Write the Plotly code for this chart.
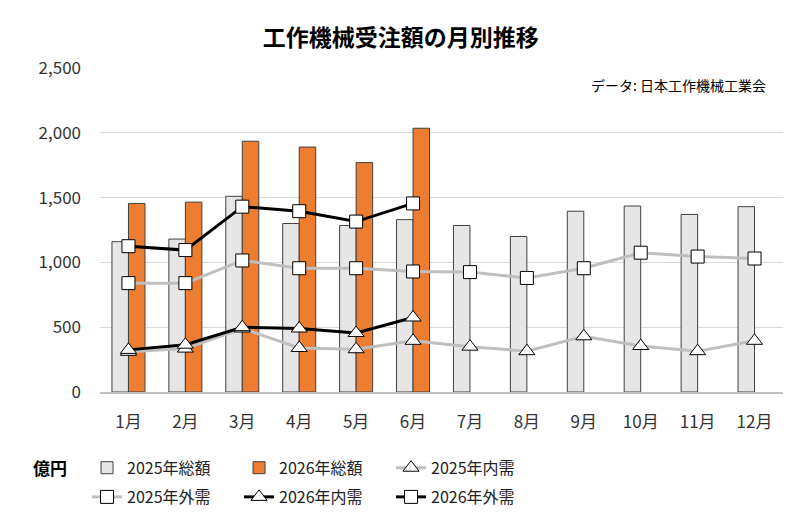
import plotly.graph_objects as go

months = ['1月', '2月', '3月', '4月', '5月', '6月', '7月', '8月', '9月', '10月', '11月', '12月']

total_2025 = [1160, 1180, 1510, 1300, 1285, 1330, 1285, 1200, 1395, 1435, 1370, 1430]
total_2026 = [1455, 1465, 1935, 1890, 1770, 2035, None, None, None, None, None, None]
domestic_2025 = [310, 335, 490, 340, 330, 395, 350, 315, 430, 355, 315, 395]
foreign_2025 = [840, 840, 1015, 955, 955, 930, 925, 880, 955, 1075, 1045, 1030]
domestic_2026 = [325, 365, 500, 490, 455, 575]
foreign_2026 = [1125, 1095, 1430, 1395, 1315, 1455]

FONT = 'Noto Sans CJK JP'

fig = go.Figure()

fig.add_trace(go.Bar(x=months, y=total_2025, name='2025年総額',
                     marker=dict(color='#e7e6e6', line=dict(color='#404040', width=1)),
                     legend='legend'))
fig.add_trace(go.Bar(x=months, y=total_2026, name='2026年総額',
                     marker=dict(color='#ed7d31', line=dict(color='#404040', width=1)),
                     legend='legend'))

marker_tri = dict(symbol='triangle-up', size=14, color='white', line=dict(color='black', width=1))
marker_sq = dict(symbol='square', size=13, color='white', line=dict(color='black', width=1))

fig.add_trace(go.Scatter(x=months, y=domestic_2025, name='2025年内需', mode='lines+markers',
                         line=dict(color='#bfbfbf', width=3), marker=marker_tri, legend='legend'))
fig.add_trace(go.Scatter(x=months, y=foreign_2025, name='2025年外需', mode='lines+markers',
                         line=dict(color='#bfbfbf', width=3), marker=marker_sq, legend='legend2'))
fig.add_trace(go.Scatter(x=months[:6], y=domestic_2026, name='2026年内需', mode='lines+markers',
                         line=dict(color='black', width=3), marker=marker_tri, legend='legend2'))
fig.add_trace(go.Scatter(x=months[:6], y=foreign_2026, name='2026年外需', mode='lines+markers',
                         line=dict(color='black', width=3), marker=marker_sq, legend='legend2'))

legend_common = dict(orientation='h', xanchor='left', yanchor='middle', entrywidth=107,
                     entrywidthmode='pixels', itemwidth=30, traceorder='normal',
                     font=dict(family=FONT, size=16, color='#222222'), bgcolor='rgba(0,0,0,0)')

# page body has an 8px margin, so the figure is drawn 8px smaller and offset
fig.update_layout(
    width=792, height=515,
    margin=dict(l=92, r=17, t=60, b=131, autoexpand=False),
    plot_bgcolor='white', paper_bgcolor='white',
    font=dict(family=FONT, size=17, color='#333333'),
    title=dict(text='<b>工作機械受注額の月別推移</b>', x=0.496, xanchor='center',
               y=1 - 30 / 515, yanchor='middle',
               font=dict(family=FONT, size=23, color='black')),
    barmode='group', bargap=0.42, bargroupgap=0,
    legend=dict(x=-0.019, y=-0.234, **legend_common),
    legend2=dict(x=-0.019, y=-0.324, **legend_common),
    xaxis=dict(range=[-0.5, 11.5], showgrid=False, showline=True, linecolor='#bfbfbf',
               linewidth=1.5, ticks='', ticklabelstandoff=14,
               tickfont=dict(family=FONT, size=17, color='#333333')),
    yaxis=dict(range=[0, 2500], dtick=500, tickformat=',', showgrid=True,
               gridcolor='#d9d9d9', gridwidth=1, zeroline=False, showline=False,
               ticks='', ticklabelstandoff=18,
               tickfont=dict(family=FONT, size=17, color='#333333')),
    annotations=[
        dict(text='データ: 日本工作機械工業会', xref='paper', yref='paper',
             x=0.978, y=0.9475, xanchor='right', yanchor='middle', showarrow=False,
             font=dict(family=FONT, size=14, color='black')),
        dict(text='<b>億円</b>', xref='paper', yref='paper',
             x=-0.0732, y=-0.234, xanchor='center', yanchor='middle', showarrow=False,
             font=dict(family=FONT, size=17, color='black')),
    ],
)

fig.write_html('out.html')
